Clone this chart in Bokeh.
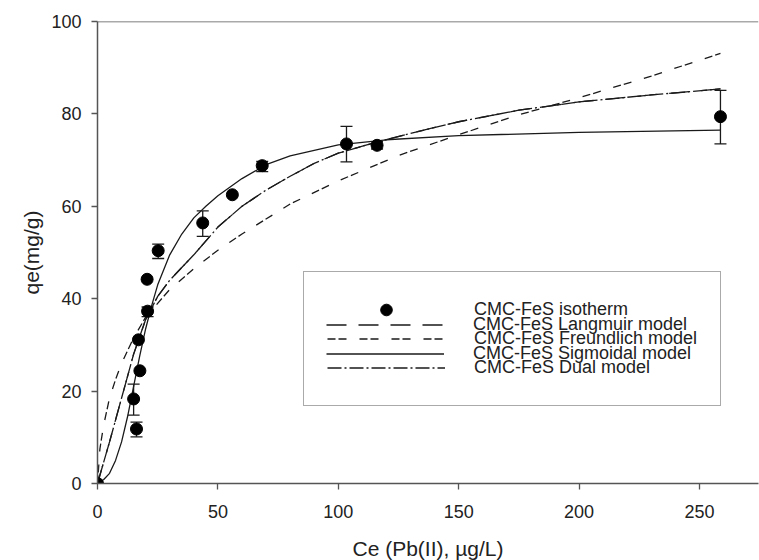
from bokeh.plotting import figure
from bokeh.models import ColumnDataSource, Whisker, TeeHead, Legend, LegendItem, Span, FixedTicker, Range1d
from bokeh.embed import file_html
from bokeh.resources import INLINE

# ---- data ----
ce = [0, 15.0, 16.2, 17.0, 17.6, 20.6, 20.8, 25.2, 43.7, 56.0, 68.4, 103.4, 116.1, 258.7]
qe = [0, 18.3, 11.8, 31.1, 24.4, 44.2, 37.3, 50.4, 56.4, 62.5, 68.8, 73.5, 73.2, 79.4]
qe_hi = [0, 21.5, 13.3, 31.1, 24.4, 44.2, 38.2, 51.8, 59.0, 62.5, 69.7, 77.3, 74.0, 85.1]
qe_lo = [0, 14.8, 10.1, 31.1, 24.4, 44.2, 36.1, 48.7, 53.5, 62.5, 67.5, 69.6, 72.4, 73.5]

sig_x = [0, 2.5, 5, 7.5, 10, 12.5, 15, 17.5, 20, 22.5, 25, 30, 35, 40, 45, 50, 60, 70, 80, 100, 120, 150, 200, 258.7]
sig_y = [0, 0.8, 2.2, 5.0, 9.0, 14.5, 21.0, 27.5, 33.5, 38.5, 43.0, 49.5, 54.0, 57.5, 60.0, 62.3, 66.0, 69.0, 70.9, 73.3, 74.4, 75.3, 76.0, 76.5]

dual_x = [0, 5, 10, 15, 20, 25, 30, 40, 50, 60, 70, 80, 90, 100, 116, 130, 150, 175, 200, 230, 258.7]
dual_y = [0, 9.0, 18.5, 28.0, 35.5, 40.5, 44.0, 49.5, 55.5, 60.0, 63.5, 66.5, 69.3, 71.5, 73.9, 75.8, 78.3, 80.8, 82.6, 84.1, 85.4]

lang_x = dual_x
lang_y = dual_y

fr_x = [0, 1, 2.5, 5, 7.5, 10, 15, 20, 30, 40, 50, 60, 80, 100, 125, 150, 175, 200, 230, 258.7]
fr_y = [0, 7.5, 12.5, 18.5, 22.5, 26.0, 31.5, 36.0, 42.0, 46.5, 50.5, 54.0, 60.5, 65.5, 71.0, 75.5, 79.8, 83.5, 88.2, 93.1]

x_ticks = [0, 50, 100, 150, 200, 250]
y_ticks = [0, 20, 40, 60, 80, 100]

FONT = "Liberation Sans"
INK = "#1a1a1a"
AX = "#555555"

p = figure(frame_width=661, frame_height=462, output_backend="svg", toolbar_location=None,
           x_range=Range1d(0, 274.5), y_range=Range1d(0, 100),
           min_border_left=97, min_border_top=21, min_border_right=1, min_border_bottom=77,
           background_fill_color="white", border_fill_color="white")
p.outline_line_color = None
p.xgrid.visible = False
p.ygrid.visible = False

for ax in (p.xaxis[0], p.yaxis[0]):
    ax.axis_line_color = AX
    ax.axis_line_width = 1.5
    ax.major_tick_line_color = AX
    ax.major_tick_line_width = 1.3
    ax.major_tick_out = 6
    ax.major_tick_in = 0
    ax.minor_tick_line_color = None
    ax.major_label_text_font = FONT
    ax.major_label_text_font_size = "18px"
    ax.major_label_text_color = "#222222"
    ax.axis_label_text_font = FONT
    ax.axis_label_text_font_size = "21px"
    ax.axis_label_text_font_style = "normal"
    ax.axis_label_text_color = "#222222"

p.xaxis.ticker = FixedTicker(ticks=x_ticks)
p.yaxis.ticker = FixedTicker(ticks=y_ticks)
p.xaxis.axis_label = "Ce (Pb(II), µg/L)"
p.yaxis.axis_label = "qe(mg/g)"
p.xaxis.major_label_standoff = 15
p.yaxis.major_label_standoff = 10
p.xaxis.axis_label_standoff = 16
p.yaxis.axis_label_standoff = 5

p.add_layout(Span(location=100, dimension="width", line_color=AX, line_width=1.3))

r_lang = p.line(lang_x, lang_y, line_color=INK, line_width=1.3, line_dash="20 12")
r_fr = p.line(fr_x, fr_y, line_color=INK, line_width=1.3, line_dash="8 3 8 13")
r_sig = p.line(sig_x, sig_y, line_color=INK, line_width=1.3)
r_dual = p.line(dual_x, dual_y, line_color=INK, line_width=1.3, line_dash="14 3 2 3")

idx = [i for i in range(len(ce)) if qe_hi[i] != qe_lo[i]]
esrc = ColumnDataSource(dict(x=[ce[i] for i in idx], up=[qe_hi[i] for i in idx], lo=[qe_lo[i] for i in idx]))
p.add_layout(Whisker(source=esrc, base="x", upper="up", lower="lo", line_color=INK, line_width=1.3,
                     upper_head=TeeHead(size=12, line_color=INK, line_width=1.3),
                     lower_head=TeeHead(size=12, line_color=INK, line_width=1.3)))

r_pts = p.scatter(ce, qe, size=12, marker="circle", fill_color="black", line_color="black")


def style_legend(lg):
    lg.label_text_font = FONT
    lg.label_text_font_size = "18px"
    lg.label_text_color = "#222222"
    lg.glyph_width = 118
    lg.glyph_height = 29
    lg.label_height = 29
    lg.label_standoff = 29
    lg.spacing = 0
    lg.padding = 23


# rows 1, 3, 5 (carries the frame); rows 2, 4 interleaved on top of it
legend_a = Legend(items=[
    LegendItem(label="CMC-FeS isotherm", renderers=[r_pts]),
    LegendItem(label="CMC-FeS Freundlich model", renderers=[r_fr]),
    LegendItem(label="CMC-FeS Dual model", renderers=[r_dual]),
], location=(206, 77))
style_legend(legend_a)
legend_a.border_line_color = AX
legend_a.border_line_width = 1.3
legend_a.background_fill_color = "white"
legend_a.background_fill_alpha = 1.0

# without a border Bokeh applies no padding, so this one is placed at the inner edge
legend_b = Legend(items=[
    LegendItem(label="CMC-FeS Langmuir model", renderers=[r_lang]),
    LegendItem(label="CMC-FeS Sigmoidal model", renderers=[r_sig]),
], location=(229, 115))
style_legend(legend_b)
legend_b.border_line_color = None
legend_b.background_fill_alpha = 0.0

p.add_layout(legend_a)
p.add_layout(legend_b)

open("out.html", "w").write(file_html(p, INLINE))
